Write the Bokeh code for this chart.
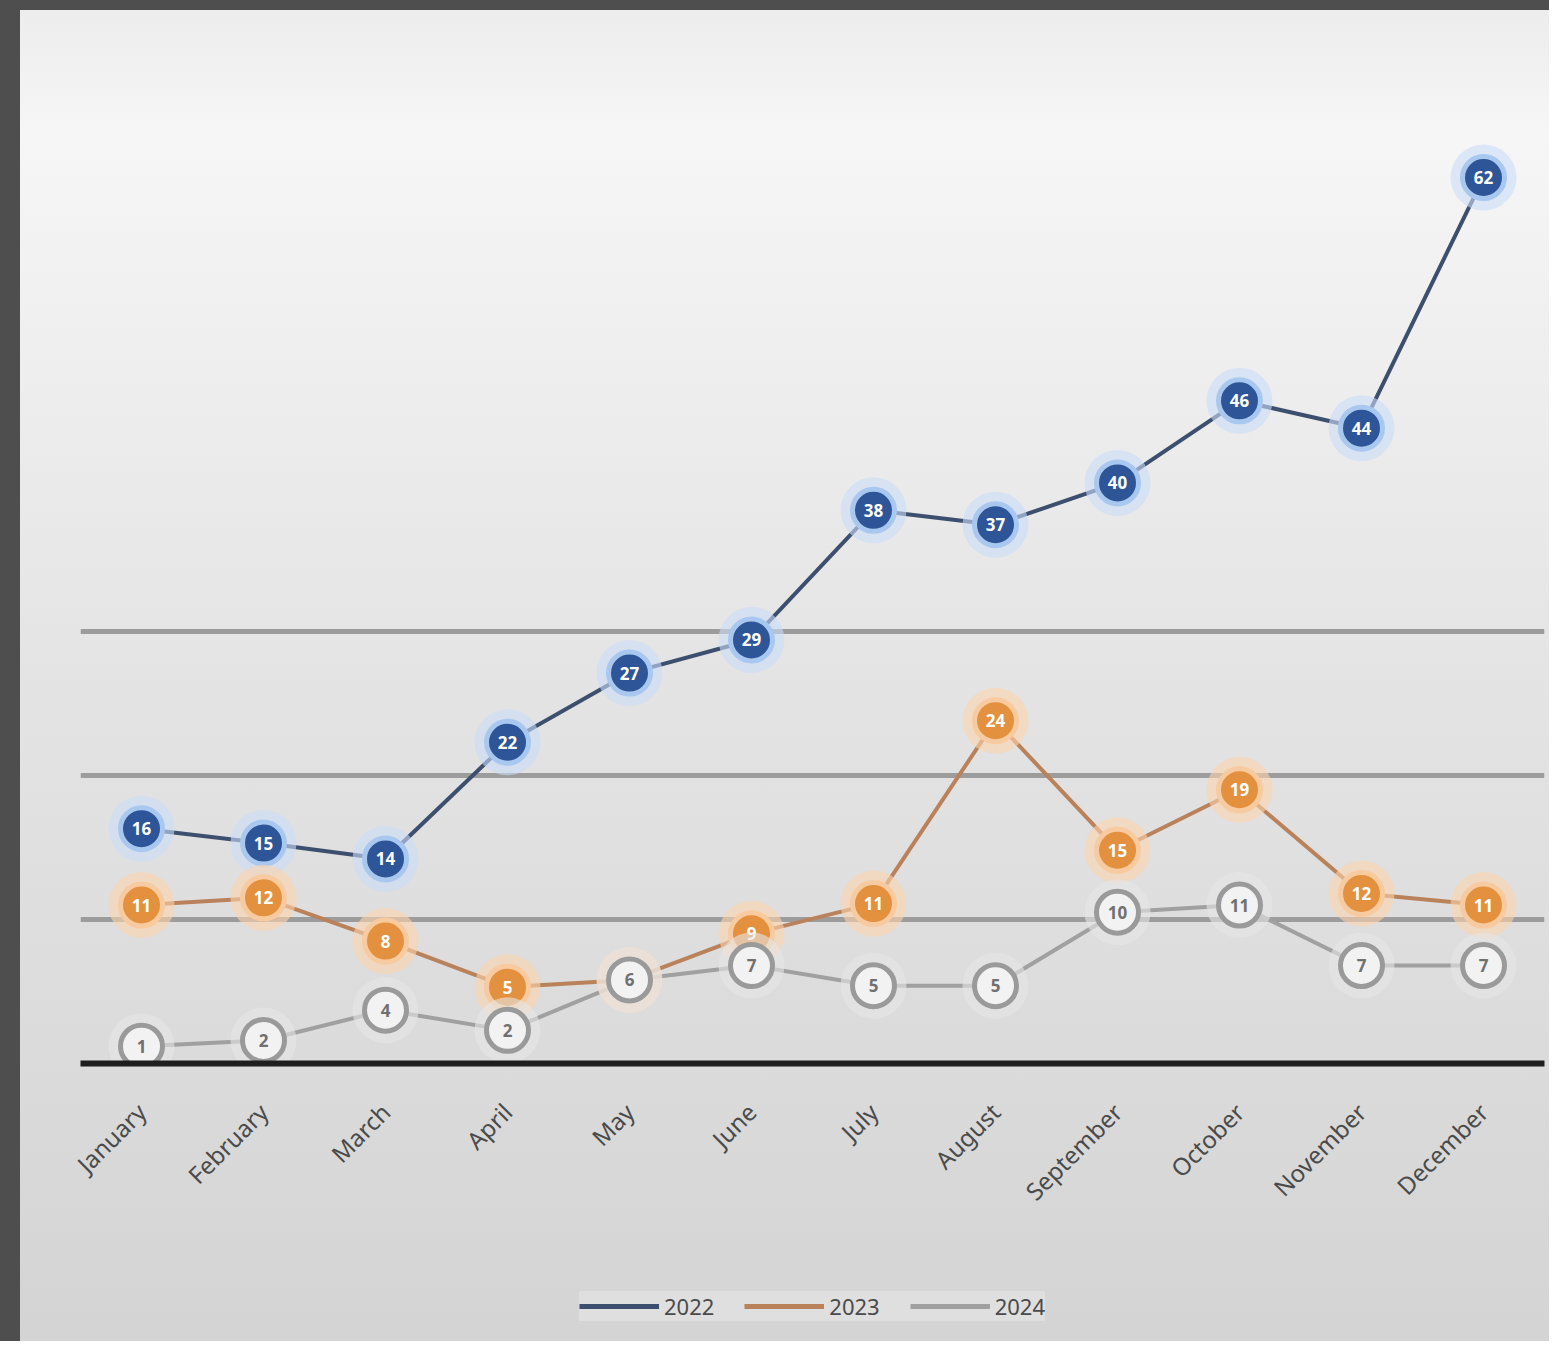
from bokeh.plotting import figure
from bokeh.layouts import column
from bokeh.models import ColumnDataSource, Legend, LegendItem, FixedTicker
from bokeh.core.properties import value
from bokeh.embed import file_html
from bokeh.resources import INLINE

categories = ["January", "February", "March", "April", "May", "June",
              "July", "August", "September", "October", "November", "December"]
series_names = ["2022", "2023", "2024"]
blue_values = [16.3, 15.3, 14.2, 22.3, 27.1, 29.4, 38.4, 37.4, 40.3, 46.0, 44.1, 61.5]
orange_values = [11.0, 11.5, 8.5, 5.3, 5.8, 9.0, 11.1, 23.8, 14.8, 19.0, 11.8, 11.0]
gray_values = [1.2, 1.6, 3.7, 2.3, 5.8, 6.8, 5.4, 5.4, 10.5, 11.0, 6.8, 6.8]
grid_ticks = [10, 20, 30]

p = figure(x_range=categories, y_range=(0, 72.4), width=1549, height=1271,
           output_backend="svg", toolbar_location=None,
           min_border_left=80, min_border_right=5, min_border_top=20, min_border_bottom=208)
p.background_fill_alpha = 0
p.border_fill_alpha = 0
p.outline_line_color = None

p.yaxis.visible = False
p.ygrid.ticker = FixedTicker(ticks=grid_ticks)
p.ygrid.grid_line_color = "#9c9c9c"
p.ygrid.grid_line_width = 5
p.xgrid.grid_line_color = None

p.xaxis.axis_line_color = "#1e1e1e"
p.xaxis.axis_line_width = 6
p.xaxis.major_tick_line_color = None
p.xaxis.minor_tick_line_color = None
p.xaxis.major_label_orientation = 0.785
p.xaxis.major_label_text_font = "Noto Sans"
p.xaxis.major_label_text_font_size = "24px"
p.xaxis.major_label_text_color = "#4a4a4a"
p.xaxis.major_label_standoff = 38

specs = [
    (blue_values, "#3d4f6e", "#2e5597", "#a9c8f0", "#c9dcf8", "white"),
    (orange_values, "#b9825a", "#e3913f", "#f7caa0", "#fbd3ae", "white"),
    (gray_values, "#a0a0a0", "#f2f2f2", "#9a9a9a", "#e6e6e6", "#707070"),
]
sources = []
for vals, lc, fc, oc, hc, tc in specs:
    src = ColumnDataSource(dict(x=categories, y=vals, lab=[f"{v:.0f}" for v in vals]))
    sources.append(src)
    p.line("x", "y", source=src, line_color=lc, line_width=4)

for (vals, lc, fc, oc, hc, tc), src in zip(specs, sources):
    p.scatter("x", "y", source=src, size=66, fill_color=hc, fill_alpha=0.6, line_color=None)
    p.scatter("x", "y", source=src, size=42, fill_color=fc, line_color=oc, line_width=5)
    p.text("x", "y", text="lab", source=src, text_color=tc, text_font_size="17px",
           text_font_style="bold", text_align="center", text_baseline="middle",
           text_font=value("Noto Sans"))

# legend strip below the chart (same series, drawn out of view; only the legend shows)
lg = figure(width=1549, height=70, x_range=categories, y_range=(1000, 1001),
            output_backend="svg", toolbar_location=None, min_border=0)
lg.axis.visible = False
lg.grid.visible = False
lg.outline_line_color = None
lg.background_fill_alpha = 0
lg.border_fill_alpha = 0
legend_renderers = []
for (vals, lc, fc, oc, hc, tc), src in zip(specs, sources):
    legend_renderers.append(lg.line("x", "y", source=src, line_color=lc, line_width=5))
legend = Legend(items=[LegendItem(label=n, renderers=[r]) for n, r in zip(series_names, legend_renderers)],
                orientation="horizontal", location="center")
legend.background_fill_color = "#e8e8e8"
legend.background_fill_alpha = 0.55
legend.border_line_color = None
legend.label_text_font = "Noto Sans"
legend.label_text_font_size = "22px"
legend.label_text_color = "#4a4a4a"
legend.glyph_width = 80
legend.glyph_height = 30
legend.label_height = 30
legend.spacing = 30
legend.padding = 8
lg.add_layout(legend, "center")

layout = column(p, lg, spacing=0)
layout.styles = {"background": "linear-gradient(to right, #4e4e4e 20px, transparent 20px), "
                               "linear-gradient(to bottom, #4e4e4e 10px, transparent 10px), "
                               "linear-gradient(to bottom, #ececec 0%, #f6f6f6 10%, #e4e4e4 50%, #d4d4d4 100%)"}

open("out.html", "w").write(file_html(layout, INLINE))
